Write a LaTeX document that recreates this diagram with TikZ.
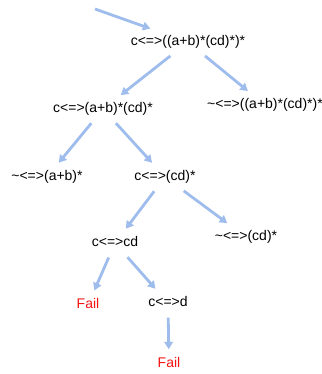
\documentclass[tikz,border=0pt]{standalone}
\usepackage{fontspec}
\setmainfont{Liberation Sans}
\usetikzlibrary{arrows.meta}
\definecolor{edgeblue}{RGB}{158,188,236}
\definecolor{failred}{RGB}{245,20,20}
\tikzset{
  st/.style={inner sep=6pt, text height=10pt, text depth=3pt, font=\fontsize{14}{16}\selectfont},
  fail/.style={st, text=failred},
  arr/.style={-{Triangle[length=7.5pt, width=8.5pt]}, line width=2.8pt, draw=edgeblue,
    shorten >=2pt, shorten <=2pt},
}
\begin{document}
\begin{tikzpicture}[x=1pt, y=-1pt]
    \useasboundingbox (0,0) rectangle (321,374);
    \coordinate (in) at (95,9);
    \node[st] (root) at (188,42) {c<=>((a+b)*(cd)*)*};
    \node[st] (l) at (103,109) {c<=>(a+b)*(cd)*};
    \node[st, anchor=west] (r) at (201,105) {\char`\~<=>((a+b)*(cd)*)*};
    \node[st] (ll) at (47,177) {\char`\~<=>(a+b)*};
    \node[st] (lr) at (165,177) {c<=>(cd)*};
    \node[st] (lrl) at (115,243) {c<=>cd};
    \node[st] (lrr) at (246,237) {\char`\~<=>(cd)*};
    \node[fail] (f1) at (88,305) {Fail};
    \node[st] (lrlr) at (168,303) {c<=>d};
    \node[fail] (f2) at (169,364) {Fail};
    \draw[arr, shorten <=0pt] (in) -- (root);
    \draw[arr] (root) -- (l);
    \draw[arr] (root) -- (r);
    \draw[arr] (l) -- (ll);
    \draw[arr] (l) -- (lr);
    \draw[arr] (lr) -- (lrl);
    \draw[arr] (lr) -- (lrr);
    \draw[arr] (lrl) -- (f1);
    \draw[arr] (lrl) -- (lrlr);
    \draw[arr] (lrlr) -- (f2);
  \end{tikzpicture}
\end{document}
